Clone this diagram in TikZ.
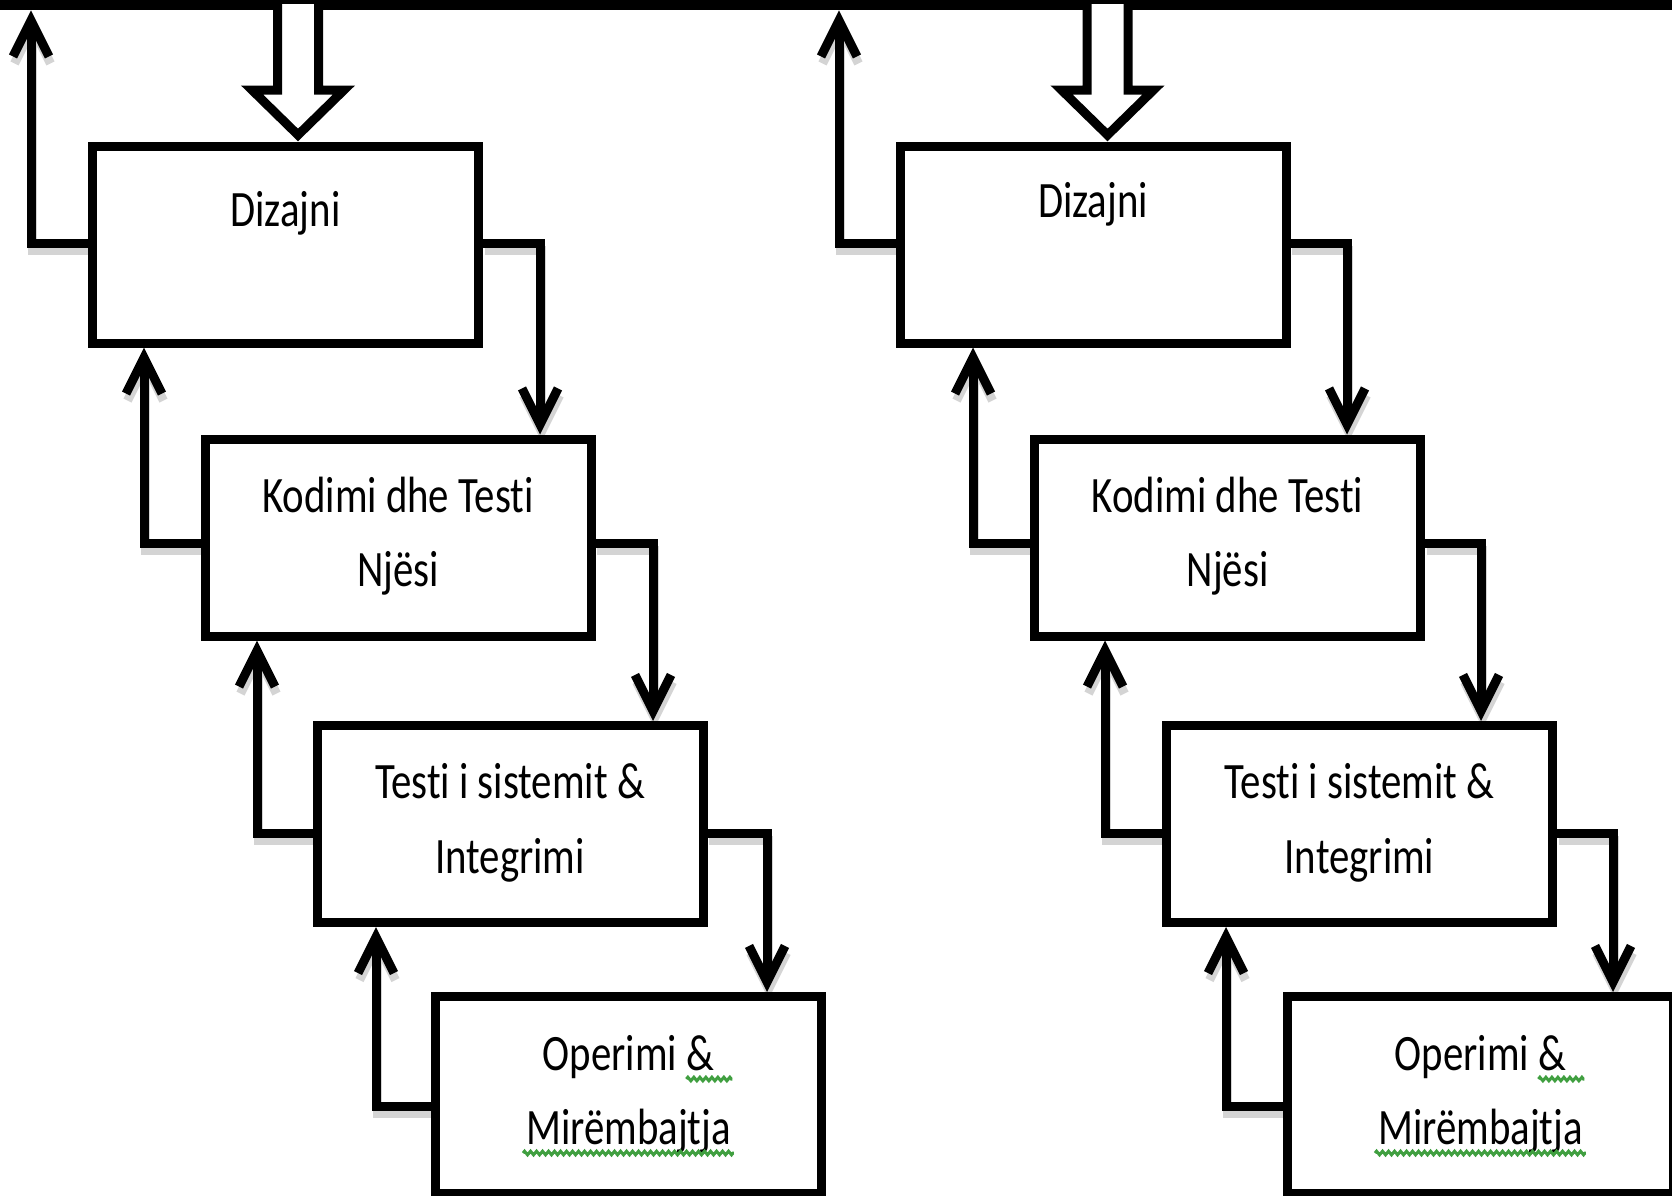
\documentclass[tikz,border=0pt]{standalone}
\usepackage{fontspec}
\newfontfamily\boxfont[FakeStretch=0.80,Ligatures={NoCommon}]{Carlito}
\usetikzlibrary{arrows.meta,decorations.pathmorphing}
\pgfdeclarelayer{paper}
\pgfdeclarelayer{shadow}
\pgfsetlayers{paper,shadow,main}

\tikzset{
  stage/.style={draw, line width=9pt, fill=white, minimum width=386pt,
    minimum height=197pt, inner sep=0pt},
  lbl/.style={font=\boxfont\fontsize{51}{60}\selectfont, inner sep=0pt, anchor=base},
  link/.style={line width=9pt, -{Straight Barb[length=36pt,width=36pt]}},
  linkshadow/.style={link, draw=black!17, transform canvas={shift={(1.5pt,-7pt)}}},
  hollowline/.style={line width=9pt, line join=miter, fill=white},
  squig/.style={draw=green!50!black!75, line width=3pt, decorate,
    decoration={zigzag, segment length=6pt, amplitude=1.8pt}},
  hollow/.pic={
    \draw[hollowline] (-20.5,4) -- (-20.5,90) -- (-46,90) -- (0,135)
      -- (46,90) -- (20.5,90) -- (20.5,4);
  },
}
% a connector with its soft drop shadow behind everything
\newcommand\flowlink[1]{%
  \begin{pgfonlayer}{shadow}\draw[linkshadow] #1;\end{pgfonlayer}%
  \draw[link] #1;}

\begin{document}
\begin{tikzpicture}[x=1pt,y=-1pt]
\begin{pgfonlayer}{paper}
  \fill[white] (0,0) rectangle (1672,1195);
\end{pgfonlayer}
\useasboundingbox (0,0) rectangle (1672,1195);

\node[fill=black, inner sep=0pt, minimum width=1672pt, minimum height=10pt,
  anchor=north west] (bar) at (0,0) {};

% left cascade
\node[stage] (d1) at (285.5,244.5) {};
\node[stage] (k1) at (398,537.5) {};
\node[stage] (t1) at (510,824) {};
\node[stage] (o1) at (628.5,1095) {};

% right cascade
\node[stage] (d2) at (1093,244.5) {};
\node[stage] (k2) at (1227.5,537.5) {};
\node[stage] (t2) at (1359.5,824) {};
\node[stage] (o2) at (1480.5,1095) {};

% labels
\node[lbl] (d1a) at (285.5,226) {Dizajni};
\node[lbl] (k1a) at (398,512) {Kodimi dhe Testi};
\node[lbl] (k1b) at (398,586) {Njësi};
\node[lbl] (t1a) at (510,798) {Testi i sistemit \&};
\node[lbl] (t1b) at (510,873) {Integrimi};
\node[lbl] (o1a) at (628.5,1070) {Operimi \&};
\node[lbl] (o1b) at (628.5,1144) {Mirëmbajtja};

\node[lbl] (d2a) at (1093,217) {Dizajni};
\node[lbl] (k2a) at (1227.5,512) {Kodimi dhe Testi};
\node[lbl] (k2b) at (1227.5,586) {Njësi};
\node[lbl] (t2a) at (1359.5,798) {Testi i sistemit \&};
\node[lbl] (t2b) at (1359.5,873) {Integrimi};
\node[lbl] (o2a) at (1480.5,1070) {Operimi \&};
\node[lbl] (o2b) at (1480.5,1144) {Mirëmbajtja};

% spell-check squiggles
\draw[squig] ([xshift=-28pt,yshift=-9pt]o1a.base east) -- ([xshift=18pt,yshift=-9pt]o1a.base east);
\draw[squig] ([xshift=-3pt,yshift=-9pt]o1b.base west) -- ([xshift=3pt,yshift=-9pt]o1b.base east);
\draw[squig] ([xshift=-28pt,yshift=-9pt]o2a.base east) -- ([xshift=18pt,yshift=-9pt]o2a.base east);
\draw[squig] ([xshift=-3pt,yshift=-9pt]o2b.base west) -- ([xshift=3pt,yshift=-9pt]o2b.base east);

% hollow input arrows from the top bar
\pic at (298,0) {hollow};
\pic at (1107.5,0) {hollow};

% left cascade: forward links
\flowlink{(d1.east |- 0,243) -| (k1.north -| 540,0)}
\flowlink{(k1.east |- 0,543) -| (t1.north -| 653,0)}
\flowlink{(t1.east |- 0,833) -| (o1.north -| 767,0)}
% left cascade: feedback links
\flowlink{(d1.west |- 0,243) -| (bar.south -| 31,0)}
\flowlink{(k1.west |- 0,543) -| (d1.south -| 144,0)}
\flowlink{(t1.west |- 0,833) -| (k1.south -| 257,0)}
\flowlink{(o1.west |- 0,1106) -| (t1.south -| 376,0)}

% right cascade: forward links
\flowlink{(d2.east |- 0,243) -| (k2.north -| 1347,0)}
\flowlink{(k2.east |- 0,543) -| (t2.north -| 1481,0)}
\flowlink{(t2.east |- 0,833) -| (o2.north -| 1613,0)}
% right cascade: feedback links
\flowlink{(d2.west |- 0,243) -| (bar.south -| 839,0)}
\flowlink{(k2.west |- 0,543) -| (d2.south -| 973,0)}
\flowlink{(t2.west |- 0,833) -| (k2.south -| 1105,0)}
\flowlink{(o2.west |- 0,1106) -| (t2.south -| 1226,0)}
\end{tikzpicture}
\end{document}
